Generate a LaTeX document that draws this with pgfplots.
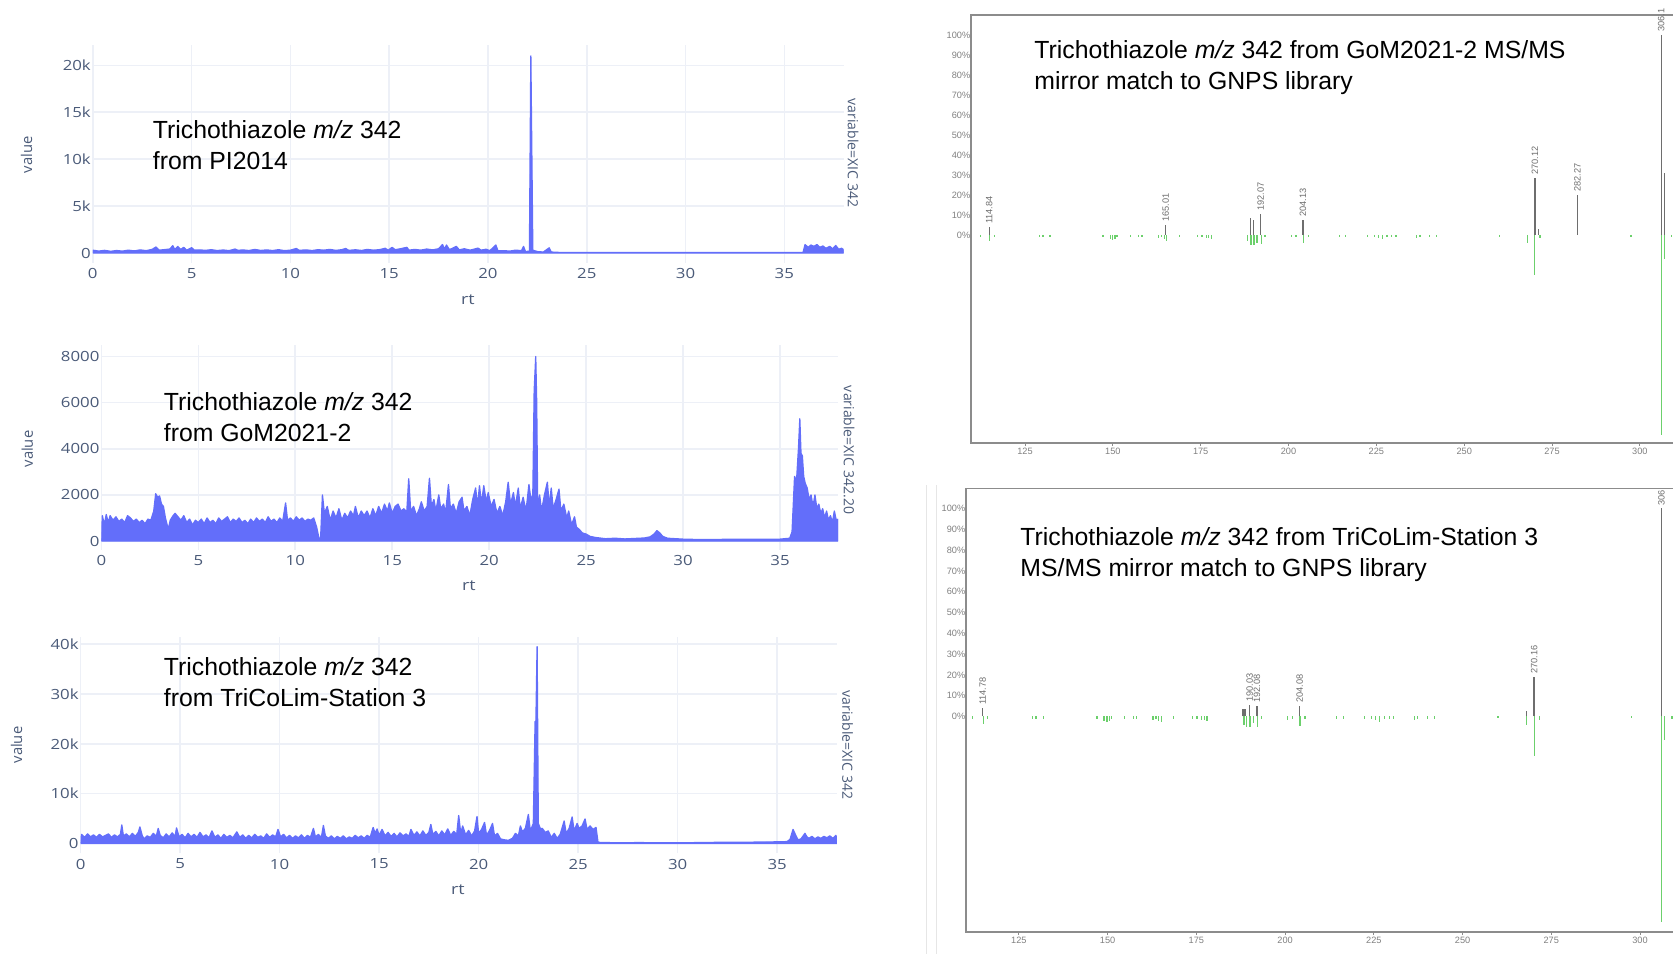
\documentclass[border=0pt]{standalone}
\usepackage{fontspec}
\setmainfont{Liberation Sans}
\newfontfamily\plotlyfont{Open Sans}
\newfontfamily\plotlywide{Open Sans}[FakeStretch=1.2]
\usepackage{pgfplots}
\pgfplotsset{compat=1.18}

\definecolor{plotblue}{HTML}{636EFA}
\definecolor{gridc}{HTML}{EDF0F7}
\definecolor{axtext}{HTML}{4A5A78}
\definecolor{framegrey}{HTML}{8C8C8C}
\definecolor{peakgrey}{HTML}{6E6E6E}
\definecolor{libgreen}{HTML}{6CD06C}
\definecolor{ticktext}{HTML}{808080}
\definecolor{sepgrey}{HTML}{E6E6E6}

\pgfplotsset{
  chrom/.style={
    scale only axis, anchor=south west,
    xmin=0, xmax=38, scaled ticks=false,
    axis line style={draw=none}, tick style={draw=none},
    grid=major, major grid style={draw=gridc, line width=0.8pt},
    xtick={0,5,...,35}, xticklabels={0,5,10,15,20,25,30,35},
    ticklabel style={font=\plotlywide\fontsize{7}{8}\selectfont, text=axtext},
    xticklabel style={anchor=north, inner sep=0pt, yshift=-2.6pt},
    yticklabel style={anchor=east, inner sep=0pt, xshift=-0.8pt},
  },
  chromline/.style={draw=plotblue, fill=plotblue, line width=0.65pt, line join=round},
  mirror/.style={
    scale only axis, anchor=south west, clip=false, scaled ticks=false,
    axis line style={draw=framegrey, line width=0.8pt},
    ytick={0,10,...,100},
    yticklabels={0\%,10\%,20\%,30\%,40\%,50\%,60\%,70\%,80\%,90\%,100\%},
    ytick style={draw=none},
    xtick={125,150,...,300}, xticklabels={125,150,175,200,225,250,275,300},
    xtick pos=left, xtick align=outside, major tick length=1.6pt,
    xtick style={draw=framegrey, line width=0.5pt},
    ticklabel style={font=\fontsize{4.6}{5}\selectfont, text=ticktext},
    yticklabel style={anchor=east, inner sep=0pt, xshift=-0.2pt},
    xticklabel style={anchor=north, inner sep=0pt, yshift=-0.6pt},
  },
  upper/.style={ycomb, draw=peakgrey, line width=0.65pt, mark=none},
  lower/.style={ycomb, draw=libgreen, line width=0.6pt, mark=none},
}
\tikzset{
  plab/.style={rotate=90, anchor=west, inner sep=1.4pt, font=\fontsize{4.6}{5}\selectfont, text=peakgrey},
}

\newcommand{\annot}{\fontsize{12.4}{15}\selectfont}

\begin{document}
\begin{tikzpicture}
\useasboundingbox (0,0) rectangle (836.5pt,477pt);
\clip (0,0) rectangle (836.5pt,477pt);

% ---------- XIC 342, PI2014 ----------
\begin{axis}[chrom, at={(46.4pt,345.5pt)}, width=375.4pt, height=109pt,
  ymin=-1066, ymax=22170,
  ytick={0,5000,10000,15000,20000}, yticklabels={0,5k,10k,15k,20k}]
\addplot[chromline] coordinates {
(0,0) (0,300) (0.3,200) (0.6,280) (0.9,180) (1.2,260) (1.5,200) (1.8,300) (2.1,220)
(2.4,330) (2.7,250) (3.0,380) (3.2,640) (3.35,300) (3.6,350) (3.9,420) (4.05,780)
(4.15,350) (4.3,700) (4.45,380) (4.6,600) (4.75,300) (5.0,560) (5.15,300) (5.4,330)
(5.7,280) (6.0,350) (6.3,260) (6.6,320) (6.9,250) (7.2,420) (7.35,280) (7.6,330)
(7.9,260) (8.2,380) (8.5,270) (8.8,330) (9.1,260) (9.4,350) (9.7,250) (10.0,300)
(10.3,480) (10.45,280) (10.8,330) (11.1,260) (11.4,350) (11.7,300) (12.0,380)
(12.3,280) (12.6,350) (12.8,480) (12.95,280) (13.3,340) (13.6,270) (13.9,380)
(14.2,300) (14.5,350) (14.8,500) (14.95,300) (15.15,600) (15.3,350) (15.5,420)
(15.9,600) (16.0,300) (16.3,380) (16.6,300) (16.9,420) (17.2,330) (17.5,450)
(17.7,900) (17.8,400) (17.9,850) (18.05,350) (18.4,700) (18.55,330) (18.8,450)
(19.1,300) (19.5,520) (19.65,300) (19.9,400) (20.1,250) (20.4,850) (20.5,250)
(20.8,250) (21.1,200) (21.4,300) (21.7,250) (21.8,700) (21.9,150) (22.1,200)
(22.17,21000) (22.27,300) (22.5,150) (22.8,100) (23.1,550) (23.2,100) (23.6,60)
(25,40) (30,40) (35,40) (35.95,60) (36.05,900) (36.2,600) (36.35,850) (36.5,700)
(36.65,900) (36.8,600) (36.95,750) (37.1,500) (37.3,700) (37.45,450) (37.6,800)
(37.75,400) (37.9,500) (38,350) (38,0)
} -- cycle;
\end{axis}

% ---------- XIC 342.20, GoM2021-2 ----------
\begin{axis}[chrom, at={(50.7pt,202pt)}, width=368.4pt, height=102.5pt,
  ymin=-390, ymax=8503,
  ytick={0,2000,4000,6000,8000}, yticklabels={0,2000,4000,6000,8000}]
\addplot[chromline] coordinates {
(0,0) (0.05,1100) (0.15,700) (0.25,1150) (0.35,800) (0.45,1100) (0.6,900) (0.75,1050)
(0.9,850) (1.05,950) (1.2,800) (1.35,1100) (1.5,1000) (1.65,850) (1.8,950) (1.95,800)
(2.1,900) (2.25,750) (2.4,950) (2.55,900) (2.7,1300) (2.8,2050) (2.9,1900) (3.0,1950)
(3.1,1600) (3.2,1500) (3.3,1000) (3.45,500) (3.55,900) (3.7,1100) (3.8,1200)
(3.95,1050) (4.1,900) (4.25,1100) (4.4,800) (4.55,950) (4.7,700) (4.85,900) (5.0,800)
(5.15,950) (5.3,750) (5.45,1000) (5.6,800) (5.75,900) (5.9,750) (6.05,1000) (6.2,850)
(6.35,950) (6.5,1050) (6.65,800) (6.8,950) (6.95,850) (7.1,1000) (7.25,800) (7.4,900)
(7.55,750) (7.7,950) (7.85,800) (8.0,1000) (8.15,850) (8.3,950) (8.45,800) (8.6,1050)
(8.75,850) (8.9,950) (9.05,800) (9.2,1000) (9.35,850) (9.5,1650) (9.6,900) (9.75,1000)
(9.9,850) (10.05,1050) (10.2,900) (10.35,1000) (10.5,850) (10.65,950) (10.8,900)
(10.95,1000) (11.1,600) (11.2,200) (11.3,0) (11.4,2000) (11.5,1200) (11.65,1500)
(11.8,900) (11.95,1300) (12.1,1000) (12.25,1400) (12.4,900) (12.55,1200) (12.7,1000)
(12.85,1300) (13.0,1100) (13.1,1500) (13.25,1000) (13.4,1300) (13.55,1100) (13.7,1300)
(13.85,1000) (14.0,1400) (14.15,1100) (14.3,1500) (14.45,1200) (14.6,1600) (14.75,1300)
(14.85,1650) (15.0,1200) (15.15,1500) (15.3,1600) (15.45,1300) (15.6,1400) (15.75,1250)
(15.85,2700) (15.95,1300) (16.1,1500) (16.25,1100) (16.4,1400) (16.5,1700) (16.65,1300)
(16.8,1500) (16.92,2720) (17.02,1500) (17.15,1800) (17.25,1300) (17.4,2000) (17.5,1400)
(17.65,1600) (17.75,1200) (17.9,2450) (18.0,1400) (18.15,1600) (18.3,1200) (18.45,1700)
(18.6,1900) (18.7,1300) (18.85,1500) (19.0,1100) (19.15,1800) (19.3,2300) (19.4,1500)
(19.5,2400) (19.6,1600) (19.72,2400) (19.85,1700) (19.95,2100) (20.1,1500) (20.25,1800)
(20.4,1200) (20.55,1500) (20.7,1100) (20.85,1700) (20.98,2550) (21.1,1600) (21.25,2100)
(21.35,1500) (21.5,2300) (21.6,1400) (21.75,1900) (21.9,1300) (22.05,2450) (22.15,1800)
(22.25,2000) (22.32,6500) (22.4,8000) (22.45,6000) (22.5,1500) (22.6,2000) (22.7,1300)
(22.85,2000) (23.0,2550) (23.1,1500) (23.2,2300) (23.3,1400) (23.45,1800) (23.6,2250)
(23.7,1300) (23.85,1600) (24.0,1000) (24.1,1300) (24.25,700) (24.4,1050) (24.5,600)
(24.65,500) (24.8,350) (25.0,300) (25.2,200) (25.5,150) (26,100) (26.5,120) (27,90)
(27.5,110) (28,130) (28.3,180) (28.5,300) (28.65,450) (28.8,350) (28.95,200) (29.2,120)
(29.6,100) (30,80) (31,60) (32,70) (33,80) (34,70) (35,80) (35.5,120) (35.62,400)
(35.75,2800) (35.85,2600) (35.95,4000) (36.02,5300) (36.08,3800) (36.15,3700)
(36.22,2800) (36.3,2500) (36.4,2300) (36.5,1800) (36.6,2000) (36.7,1500) (36.8,2000)
(36.9,1400) (37.0,1600) (37.1,1200) (37.2,1400) (37.3,1000) (37.4,1300) (37.5,900)
(37.6,1100) (37.7,800) (37.8,1300) (37.9,900) (38,950) (38,0)
} -- cycle;
\end{axis}

% ---------- XIC 342, TriCoLim-Station 3 ----------
\begin{axis}[chrom, at={(40.3pt,50.35pt)}, width=378.1pt, height=108.3pt,
  ymin=-2000, ymax=41500,
  ytick={0,10000,20000,30000,40000}, yticklabels={0,10k,20k,30k,40k}]
\addplot[chromline] coordinates {
(0,0) (0.05,1800) (0.2,1200) (0.35,1900) (0.5,1300) (0.65,1700) (0.8,1200) (0.95,1800)
(1.1,1300) (1.25,1600) (1.4,1900) (1.55,1200) (1.7,1700) (1.85,1300) (2.0,1800)
(2.07,3700) (2.15,1500) (2.3,1900) (2.45,1300) (2.6,2000) (2.75,1400) (2.9,2200)
(2.98,3300) (3.1,1500) (3.2,900) (3.35,1500) (3.5,1200) (3.65,2000) (3.8,1400)
(3.9,3000) (4.0,1600) (4.15,1100) (4.3,1900) (4.45,1300) (4.6,2100) (4.75,1400)
(4.82,3100) (4.95,1300) (5.1,1800) (5.25,1100) (5.4,2000) (5.55,1300) (5.7,1800)
(5.85,1200) (6.0,2200) (6.15,1300) (6.3,1700) (6.45,1100) (6.6,2500) (6.75,1200)
(6.9,1700) (7.05,1000) (7.2,1800) (7.35,1200) (7.5,1600) (7.65,1100) (7.85,2300)
(8.0,1200) (8.15,1700) (8.3,1000) (8.45,1600) (8.6,1100) (8.75,1800) (8.9,1200)
(9.05,1500) (9.2,1000) (9.35,1900) (9.5,1200) (9.65,1700) (9.8,1300) (9.92,2800)
(10.05,1300) (10.2,1800) (10.35,1100) (10.5,1600) (10.65,1000) (10.8,1500) (10.95,1100)
(11.1,1700) (11.25,1000) (11.4,1600) (11.55,1200) (11.7,3000) (11.8,1300) (11.95,1800)
(12.1,1200) (12.2,3600) (12.3,1500) (12.45,1000) (12.6,1500) (12.75,900) (12.9,1400)
(13.05,1000) (13.2,1500) (13.35,900) (13.5,1300) (13.65,1000) (13.8,1600) (13.95,1100)
(14.1,1500) (14.25,1000) (14.4,1600) (14.55,1200) (14.7,3200) (14.8,2000) (14.9,2900)
(15.0,1600) (15.15,2800) (15.3,1500) (15.45,2200) (15.6,1400) (15.75,2000) (15.9,1300)
(16.05,2100) (16.2,1500) (16.35,1900) (16.5,1400) (16.6,2800) (16.75,1600) (16.9,2300)
(17.05,1500) (17.2,2500) (17.35,1600) (17.5,2200) (17.6,3800) (17.7,1800) (17.85,2400)
(18.0,1500) (18.15,2500) (18.3,1700) (18.45,2900) (18.6,1600) (18.75,2400) (18.9,1800)
(19.0,5600) (19.1,2000) (19.2,3500) (19.35,1700) (19.5,2600) (19.65,1500) (19.8,2500)
(19.92,5400) (20.0,2000) (20.15,2800) (20.3,4200) (20.4,1600) (20.55,2600) (20.7,4000)
(20.8,1500) (20.95,2000) (21.1,900) (21.3,700) (21.5,600) (21.7,1000) (21.85,2000)
(22.0,1500) (22.1,3500) (22.2,2300) (22.35,3000) (22.5,5800) (22.6,2500) (22.75,4000)
(22.84,24500) (22.88,24500) (22.94,39500) (23.0,4000) (23.1,3000) (23.2,3000)
(23.35,2200) (23.5,2500)
(23.65,1200) (23.8,2000) (23.95,1000) (24.1,1800) (24.3,4500) (24.4,2000) (24.55,3000)
(24.7,5300) (24.8,2500) (24.95,4000) (25.05,3000) (25.2,3500) (25.35,4900) (25.45,2800)
(25.6,3500) (25.75,2800) (25.9,3200) (26.0,200) (26.5,150) (27,100) (28,150) (29,120)
(30,100) (31,150) (32,200) (33,200) (34,250) (35,300) (35.5,350) (35.65,800)
(35.8,2800) (35.95,1500) (36.05,700) (36.2,900) (36.4,2000) (36.5,1300) (36.6,1000)
(36.75,1400) (36.9,900) (37.05,1300) (37.2,1000) (37.35,1400) (37.5,1100) (37.65,1500)
(37.8,1000) (37.95,1600) (38,1200) (38,0)
} -- cycle;
\end{axis}

% ---------- MS/MS mirror, GoM2021-2 ----------
\begin{axis}[mirror, at={(485.5pt,255.5pt)}, width=355.5pt, height=214pt,
  xmin=109.63, xmax=312, ymin=-104, ymax=110]
\addplot[lower] coordinates {
(112.3,-1) (115.0,-3) (116.2,-1) (129.1,-1) (130.1,-1) (132.1,-1) (147.2,-1)
(149.3,-2) (150.0,-2.5) (150.6,-2) (151.2,-1) (155.0,-1) (157.4,-1) (158.3,-1)
(163.1,-1.5) (163.9,-1) (164.6,-2) (165.3,-3) (168.9,-1) (174.2,-1) (175.4,-1)
(176.6,-1.5) (177.3,-1.5) (178.1,-2) (188.3,-3) (189.3,-5) (190.2,-5) (191.0,-4)
(192.2,-4.5) (193.3,-1) (200.8,-1) (202.1,-1) (204.2,-4) (205.6,-1) (214.4,-1)
(216.3,-1) (222.4,-1) (224.5,-1) (225.6,-1.5) (226.8,-2) (228.0,-1) (229.4,-1)
(230.6,-1) (236.4,-1.5) (237.4,-1) (240.1,-1) (242.2,-1) (260.0,-0.8) (268.1,-4)
(270.1,-20) (271.6,-1.5) (297.5,-0.8) (306.1,-100) (307.1,-12) (309.0,-1)
};
\addplot[upper] coordinates {
(114.84,4) (165.01,5) (189.2,8.5) (190.0,7.5) (192.07,10.5) (204.13,7.5)
(270.12,28.5) (271.2,3) (282.27,20) (306.1,100) (307.1,31)
};
\node[plab] at (axis cs:114.84,4) {114.84};
\node[plab] at (axis cs:165.01,5) {165.01};
\node[plab] at (axis cs:192.07,10.5) {192.07};
\node[plab] at (axis cs:204.13,7.5) {204.13};
\node[plab] at (axis cs:270.12,28.5) {270.12};
\node[plab] at (axis cs:282.27,20) {282.27};
\node[plab] at (axis cs:306.1,100) {306.1};
\end{axis}

% ---------- MS/MS mirror, TriCoLim-Station 3 ----------
\begin{axis}[mirror, at={(483pt,11pt)}, width=358.3pt, height=221.75pt,
  xmin=110.1, xmax=312, ymin=-103.6, ymax=109.6]
\addplot[lower] coordinates {
(112.0,-1) (115.0,-3.5) (116.2,-1) (128.8,-1) (129.8,-1) (132.0,-1) (147.0,-1)
(149.0,-2) (149.8,-2.5) (150.5,-2) (151.2,-1) (154.8,-1) (157.2,-1) (158.2,-1)
(162.8,-1.5) (163.6,-1) (164.4,-2) (165.2,-2.5) (168.5,-1) (174.0,-1) (175.2,-1)
(176.4,-1.5) (177.2,-1.5) (178.0,-2) (188.4,-4) (189.2,-5) (190.1,-5) (191.0,-3)
(192.2,-5) (193.4,-1) (200.6,-1.5) (202.0,-1) (204.2,-4.5) (205.6,-1) (214.4,-1)
(216.4,-1) (222.4,-1) (224.3,-1) (225.4,-1.5) (226.6,-2.5) (228.0,-1) (229.4,-1)
(230.5,-1) (236.4,-1.5) (237.3,-1) (240.1,-1) (242.2,-1) (260.0,-0.8) (268.0,-4)
(270.2,-19) (271.6,-1.5) (297.5,-0.8) (306.0,-99) (307.0,-11.5) (309.0,-1)
};
\addplot[upper] coordinates {
(114.78,4) (188.1,3.5) (188.7,3.5) (190.03,5.5) (192.08,5) (204.08,5)
(268.0,2.5) (270.16,19.2) (306.0,100)
};
\node[plab] at (axis cs:114.78,4) {114.78};
\node[plab] at (axis cs:190.03,5.5) {190.03};
\node[plab] at (axis cs:192.08,5) {192.08};
\node[plab] at (axis cs:204.08,5) {204.08};
\node[plab] at (axis cs:270.16,19.2) {270.16};
\node[plab] at (axis cs:306.0,100) {306};
\end{axis}

% ---------- labels and panel text ----------
\begin{scope}[x=0.5pt, y=-0.5pt, shift={(0pt,477pt)}]
  \draw[sepgrey, line width=0.5pt] (926,485) -- (926,954);
  \draw[sepgrey, line width=0.5pt] (936,485) -- (936,954);

  \begin{scope}[every node/.style={text=axtext, inner sep=0pt}]
    \node[font=\plotlywide\fontsize{7.4}{8}\selectfont] at (468,300) {rt};
    \node[font=\plotlywide\fontsize{7.4}{8}\selectfont] at (469,585.7) {rt};
    \node[font=\plotlywide\fontsize{7.4}{8}\selectfont] at (458,890) {rt};
    \node[rotate=90, font=\plotlyfont\fontsize{7.4}{8}\selectfont] at (26.5,155) {value};
    \node[rotate=90, font=\plotlyfont\fontsize{7.4}{8}\selectfont] at (27.4,449) {value};
    \node[rotate=90, font=\plotlyfont\fontsize{7.4}{8}\selectfont] at (16.5,745) {value};
    \node[rotate=-90, font=\plotlyfont\fontsize{7}{8}\selectfont] at (853,153) {variable=XIC 342};
    \node[rotate=-90, font=\plotlyfont\fontsize{7}{8}\selectfont] at (849,450) {variable=XIC 342.20};
    \node[rotate=-90, font=\plotlyfont\fontsize{7}{8}\selectfont] at (847.5,745) {variable=XIC 342};
  \end{scope}

  \begin{scope}[every node/.style={anchor=base west, inner sep=0pt, font=\annot}]
    \node at (152.5,139) {Trichothiazole \textit{m/z} 342};
    \node at (152.5,170) {from PI2014};
    \node at (163.5,410) {Trichothiazole \textit{m/z} 342};
    \node at (163.5,441.7) {from GoM2021-2};
    \node at (163.5,675) {Trichothiazole \textit{m/z} 342};
    \node at (163.5,706.7) {from TriCoLim-Station 3};
    \node at (1034,58.5) {Trichothiazole \textit{m/z} 342 from GoM2021-2 MS/MS};
    \node at (1034,90) {mirror match to GNPS library};
    \node at (1020,545) {Trichothiazole \textit{m/z} 342 from TriCoLim-Station 3};
    \node at (1020,576.5) {MS/MS mirror match to GNPS library};
  \end{scope}
\end{scope}
\end{tikzpicture}
\end{document}
